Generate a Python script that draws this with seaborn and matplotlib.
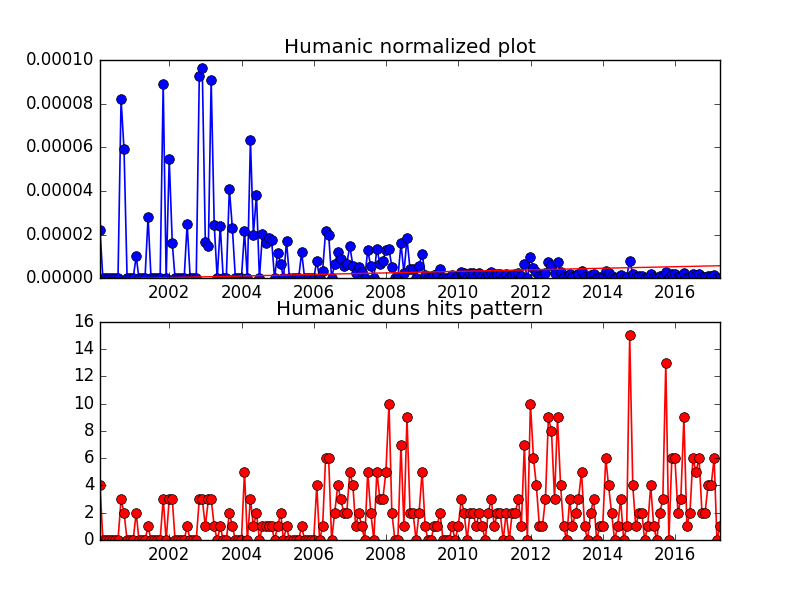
import numpy as np
import pandas as pd
import matplotlib
matplotlib.use("Agg")
import matplotlib.pyplot as plt
import matplotlib.dates as mdates
import matplotlib.ticker as mticker
import seaborn as sns

# ---------------- data (monthly, Jan 2000 .. Mar 2017) ----------------
start_month = "2000-01-31"

# bottom chart: hits per month
hits = [
    4, 0, 0, 0, 0, 0, 0, 3, 2, 0, 0, 0,        # 2000
    2, 0, 0, 0, 1, 0, 0, 0, 0, 3, 0, 3,        # 2001
    3, 0, 0, 0, 0, 1, 0, 0, 0, 3, 3, 1,        # 2002
    3, 3, 1, 0, 1, 0, 0, 2, 1, 0, 0, 0,        # 2003
    5, 0, 3, 1, 2, 0, 1, 1, 1, 1, 0, 1,        # 2004
    2, 0, 1, 0, 0, 0, 0, 1, 0, 0, 0, 0,        # 2005
    4, 0, 1, 6, 6, 0, 2, 4, 3, 2, 2, 5,        # 2006
    4, 1, 2, 1, 0, 5, 2, 0, 5, 3, 3, 5,        # 2007
    10, 2, 0, 0, 7, 1, 9, 2, 2, 0, 2, 5,       # 2008
    1, 0, 0, 1, 1, 2, 0, 0, 0, 1, 0, 1,        # 2009
    3, 2, 0, 2, 2, 1, 2, 1, 0, 2, 3, 1,        # 2010
    2, 2, 0, 2, 0, 2, 2, 3, 1, 7, 0, 10,       # 2011
    6, 4, 1, 1, 3, 9, 8, 3, 9, 4, 1, 0,        # 2012
    3, 1, 2, 3, 5, 1, 0, 2, 3, 0, 1, 1,        # 2013
    6, 4, 2, 0, 1, 3, 0, 1, 15, 4, 1, 2,       # 2014
    2, 0, 1, 4, 1, 0, 2, 3, 13, 0, 6, 6,       # 2015
    2, 3, 9, 1, 2, 6, 5, 6, 2, 2, 4, 4,        # 2016
    6, 0, 1,                                   # 2017
]

# top chart: normalized hits (in units of 1e-5)
normalized_e5 = [
    2.2, 0, 0, 0, 0, 0, 0, 8.2, 5.9, 0, 0, 0,                          # 2000
    1.0, 0, 0, 0, 2.8, 0, 0, 0, 0, 8.9, 0, 5.45,                       # 2001
    1.6, 0, 0, 0, 0, 2.5, 0, 0, 0, 9.25, 9.65, 1.65,                   # 2002
    1.48, 9.1, 2.45, 0, 2.38, 0, 0, 4.1, 2.32, 0, 0, 0,                # 2003
    2.15, 0, 6.35, 2.0, 3.83, 0, 2.04, 1.6, 1.86, 1.75, 0, 1.17,       # 2004
    0.67, 0, 1.69, 0, 0, 0, 0, 1.19, 0, 0, 0, 0,                       # 2005
    0.78, 0, 0.34, 2.15, 2.0, 0, 0.67, 1.19, 0.9, 0.58, 0.67, 1.46,    # 2006
    0.58, 0.26, 0.52, 0.29, 0, 1.28, 0.55, 0, 1.36, 0.67, 0.78, 1.28,  # 2007
    1.33, 0.52, 0, 0, 1.59, 0.24, 1.82, 0.4, 0.44, 0, 0.55, 1.13,      # 2008
    0.14, 0, 0, 0.15, 0.2, 0.44, 0, 0, 0, 0.15, 0, 0.12,               # 2009
    0.3, 0.25, 0, 0.22, 0.25, 0.12, 0.22, 0.12, 0, 0.2, 0.3, 0.1,      # 2010
    0.2, 0.18, 0, 0.2, 0, 0.15, 0.2, 0.25, 0.08, 0.66, 0, 0.95,        # 2011
    0.45, 0.3, 0.08, 0.08, 0.25, 0.75, 0.62, 0.22, 0.75, 0.3, 0.07, 0, # 2012
    0.2, 0.07, 0.14, 0.2, 0.35, 0.07, 0, 0.13, 0.2, 0, 0.07, 0.07,     # 2013
    0.32, 0.22, 0.11, 0, 0.05, 0.16, 0, 0.05, 0.8, 0.2, 0.05, 0.1,     # 2014
    0.1, 0, 0.05, 0.18, 0.05, 0, 0.08, 0.12, 0.3, 0, 0.18, 0.18,       # 2015
    0.06, 0.09, 0.25, 0.03, 0.06, 0.17, 0.14, 0.17, 0.06, 0.06, 0.11, 0.11,  # 2016
    0.16, 0, 0.03,                                                     # 2017
]

# red trend line on the top chart (start / end value, units 1e-5)
trend_e5 = [-0.04, 0.57]

top_title = "Humanic normalized plot"
bottom_title = "Humanic duns hits pattern"
top_yticks = [0, 0.00002, 0.00004, 0.00006, 0.00008, 0.0001]
bottom_yticks = [0, 2, 4, 6, 8, 10, 12, 14, 16]

# ---------------- plotting ----------------
plt.style.use("classic")

dates = pd.date_range(start_month, periods=len(hits), freq="ME")
norm = np.array(normalized_e5) * 1e-5
trend = np.array(trend_e5) * 1e-5

fig, (ax1, ax2) = plt.subplots(2, 1, figsize=(8, 6), dpi=100)
fig.patch.set_facecolor("white")

sns.lineplot(x=dates, y=norm, ax=ax1, color="b", marker="o", markersize=7,
             markeredgecolor="k", markeredgewidth=0.5, linewidth=1.2)
sns.lineplot(x=[dates[0], dates[-1]], y=trend, ax=ax1, color="r", linewidth=1)

sns.lineplot(x=dates, y=np.array(hits, dtype=float), ax=ax2, color="r", marker="o",
             markersize=7, markeredgecolor="k", markeredgewidth=0.5, linewidth=1.2)

for ax in (ax1, ax2):
    ax.set_xlim(dates[0], dates[-1])
    ax.xaxis.set_major_locator(mdates.YearLocator(2))
    ax.xaxis.set_major_formatter(mdates.DateFormatter("%Y"))
    ax.set_xlabel("")
    ax.set_ylabel("")
    ax.set_facecolor("white")

ax1.set_ylim(0, 0.0001)
ax1.set_yticks(top_yticks)
ax1.yaxis.set_major_formatter(mticker.FormatStrFormatter("%.5f"))
ax1.set_title(top_title)

ax2.set_ylim(0, 16)
ax2.set_yticks(bottom_yticks)
ax2.set_title(bottom_title)

fig.savefig("out.png", dpi=100, facecolor="white")
